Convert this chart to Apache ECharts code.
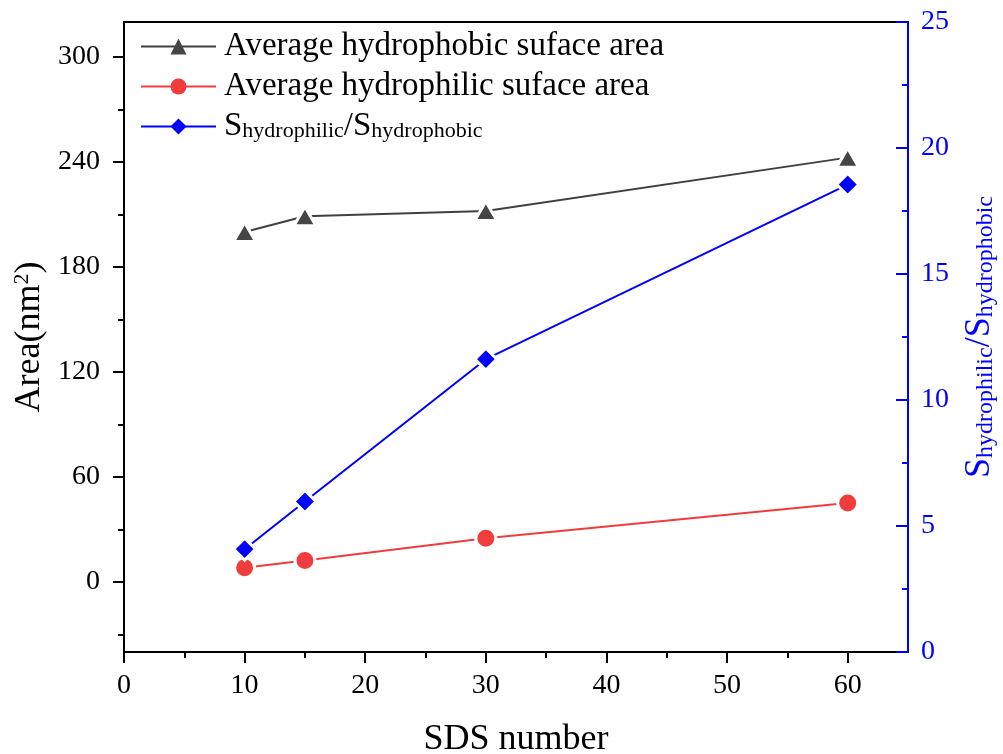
<!DOCTYPE html>
<html>
<head>
<meta charset="utf-8">
<script src="https://cdn.jsdelivr.net/npm/echarts@6/dist/echarts.min.js"></script>
<style>
html,body{margin:0;padding:0;background:#fff;}
#chart{width:1003px;height:754px;}
</style>
</head>
<body>
<div id="chart"></div>
<script>
// ---- data ----
var sdsNumber = [10, 15, 30, 60];
var hydrophobicArea = [200, 209, 212, 242.5];
var hydrophilicArea = [8.2, 12.3, 25.0, 45.2];
var ratio = [4.08, 5.97, 11.62, 18.55];

var xTicks = [0, 10, 20, 30, 40, 50, 60];
var xMinorTicks = [5, 15, 25, 35, 45, 55];
var leftTicks = [0, 60, 120, 180, 240, 300];
var leftMinorTicks = [-30, 30, 90, 150, 210, 270];

var seriesNames = ['Average hydrophobic suface area', 'Average hydrophilic suface area', 'Shydrophilic/Shydrophobic'];

var FONT = 'Liberation Serif';

var chart = echarts.init(document.getElementById('chart'), null, {renderer: 'canvas'});

var option = {
  backgroundColor: '#ffffff',
  animation: false,
  textStyle: {fontFamily: FONT},
  grid: {left: 124, right: 95, top: 22, bottom: 102, outerBoundsMode: 'none', containLabel: false},
  legend: {
    orient: 'vertical',
    left: 140,
    top: 30,
    padding: 0,
    itemGap: 7,
    itemWidth: 75,
    itemHeight: 20,
    data: seriesNames,
    itemStyle: {borderWidth: 0},
    textStyle: {
      fontFamily: FONT, fontSize: 33, color: '#000', lineHeight: 32,
      padding: [0, 0, 0, 3],
      rich: {
        m: {fontFamily: FONT, fontSize: 33, color: '#000', lineHeight: 32},
        s: {fontFamily: FONT, fontSize: 22, color: '#000', lineHeight: 20, verticalAlign: 'bottom', padding: [4, 0, 0, 0]}
      }
    },
    formatter: function (name) {
      if (name === seriesNames[2]) {
        return '{m|S}{s|hydrophilic}{m|/S}{s|hydrophobic}';
      }
      return name;
    }
  },
  xAxis: [
    {
      type: 'value', position: 'bottom', min: 0, max: 65,
      name: 'SDS number', nameLocation: 'middle', nameGap: 70,
      nameTextStyle: {fontFamily: FONT, fontSize: 36, color: '#000'},
      axisLine: {onZero: false, lineStyle: {color: '#000', width: 2}},
      axisTick: {show: true, inside: false, length: 11, customValues: xTicks, lineStyle: {color: '#000', width: 2}},
      axisLabel: {customValues: xTicks, fontFamily: FONT, fontSize: 28, color: '#000', margin: 20},
      splitLine: {show: false}
    },
    {
      type: 'value', position: 'top', min: 0, max: 65,
      axisLine: {show: true, onZero: false, lineStyle: {color: '#000', width: 2}},
      axisTick: {show: false}, axisLabel: {show: false}, splitLine: {show: false}
    },
    {
      type: 'value', position: 'bottom', min: 0, max: 65,
      axisLine: {show: false, onZero: false},
      axisTick: {show: true, inside: false, length: 6, customValues: xMinorTicks, lineStyle: {color: '#000', width: 2}},
      axisLabel: {show: false}, splitLine: {show: false}
    }
  ],
  yAxis: [
    {
      type: 'value', position: 'left', min: -40, max: 320,
      name: '{m|Area(nm}{sup|2}{m|)}', nameLocation: 'middle', nameGap: 68, nameRotate: 90,
      nameTextStyle: {
        fontFamily: FONT, fontSize: 36, color: '#000',
        rich: {
          m: {fontFamily: FONT, fontSize: 36, color: '#000', lineHeight: 36},
          sup: {fontFamily: FONT, fontSize: 22, color: '#000', lineHeight: 20, verticalAlign: 'top', padding: [0, 0, 6, 0]}
        }
      },
      axisLine: {show: true, onZero: false, lineStyle: {color: '#000', width: 2}},
      axisTick: {show: true, inside: false, length: 11, customValues: leftTicks, lineStyle: {color: '#000', width: 2}},
      axisLabel: {customValues: leftTicks, fontFamily: FONT, fontSize: 28, color: '#000', margin: 24},
      splitLine: {show: false}
    },
    {
      type: 'value', position: 'right', min: 0, max: 25, interval: 5,
      name: '{m|S}{s|hydrophilic}{m|/S}{s|hydrophobic}', nameLocation: 'middle', nameGap: 54, nameRotate: 90,
      nameTextStyle: {
        fontFamily: FONT, fontSize: 36, color: '#0000ff',
        rich: {
          m: {fontFamily: FONT, fontSize: 36, color: '#0000ff', lineHeight: 36},
          s: {fontFamily: FONT, fontSize: 24, color: '#0000ff', lineHeight: 22, verticalAlign: 'bottom', padding: [5, 0, 0, 0]}
        }
      },
      axisLine: {show: true, onZero: false, lineStyle: {color: '#0000ff', width: 2}},
      axisTick: {show: true, inside: true, length: 12, lineStyle: {color: '#0000ff', width: 2}},
      minorTick: {show: true, splitNumber: 2, length: 6, lineStyle: {color: '#0000ff', width: 2}},
      axisLabel: {fontFamily: FONT, fontSize: 28, color: '#0000ff', margin: 13},
      splitLine: {show: false}, minorSplitLine: {show: false}
    },
    {
      type: 'value', position: 'left', min: -40, max: 320,
      axisLine: {show: false, onZero: false},
      axisTick: {show: true, inside: false, length: 6, customValues: leftMinorTicks, lineStyle: {color: '#000', width: 2}},
      axisLabel: {show: false}, splitLine: {show: false}
    }
  ],
  series: [
    {
      name: seriesNames[0], type: 'line', xAxisIndex: 0, yAxisIndex: 0,
      data: sdsNumber.map(function (x, i) { return [x, hydrophobicArea[i]]; }),
      symbol: 'triangle', symbolSize: [22, 19],
      lineStyle: {color: '#404040', width: 2},
      itemStyle: {color: '#454545', borderColor: '#ffffff', borderWidth: 3},
      z: 3
    },
    {
      name: seriesNames[1], type: 'line', xAxisIndex: 0, yAxisIndex: 0,
      data: sdsNumber.map(function (x, i) { return [x, hydrophilicArea[i]]; }),
      symbol: 'circle', symbolSize: 20,
      lineStyle: {color: '#f03c3c', width: 2},
      itemStyle: {color: '#f03c3c', borderColor: '#ffffff', borderWidth: 3},
      z: 3
    },
    {
      name: seriesNames[2], type: 'line', xAxisIndex: 0, yAxisIndex: 1,
      data: sdsNumber.map(function (x, i) { return [x, ratio[i]]; }),
      symbol: 'diamond', symbolSize: 22,
      lineStyle: {color: '#0000ff', width: 2},
      itemStyle: {color: '#0000ff', borderColor: '#ffffff', borderWidth: 3},
      z: 3
    }
  ]
};
chart.setOption(option);
</script>
</body>
</html>
